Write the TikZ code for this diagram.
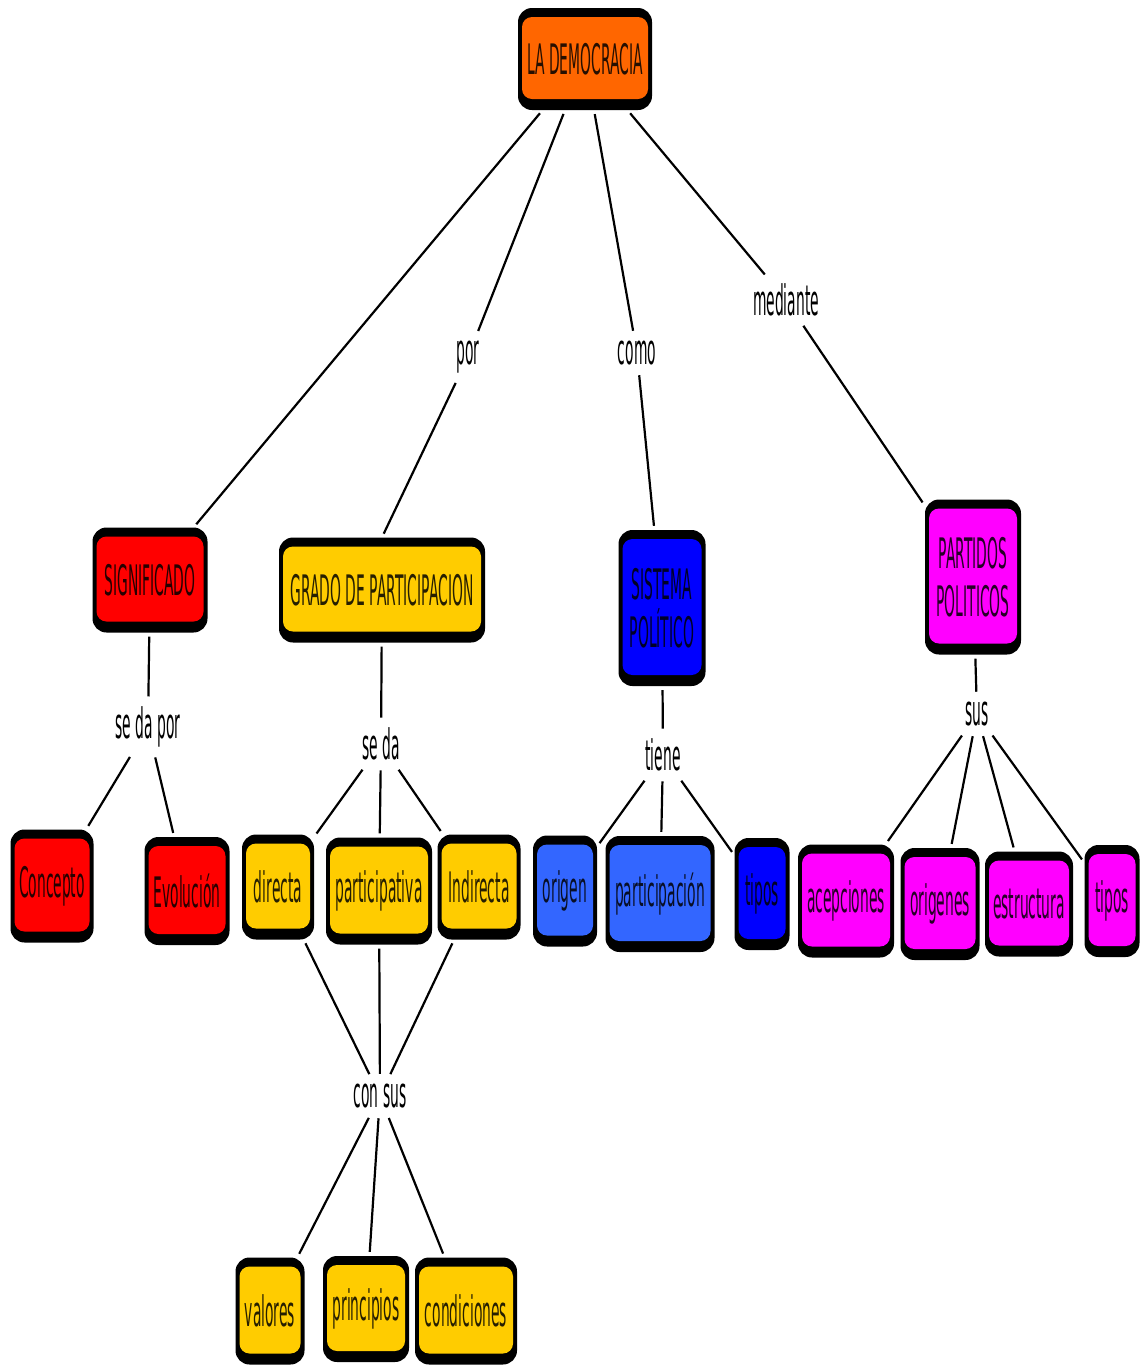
\documentclass[tikz,border=0pt]{standalone}
\usepackage{fontspec}
\setmainfont{DejaVu Sans}[FakeStretch=0.33]
\definecolor{corange}{HTML}{FF6600}
\definecolor{cred}{HTML}{FF0000}
\definecolor{cyel}{HTML}{FFCC00}
\definecolor{cblue}{HTML}{0000FF}
\definecolor{clblue}{HTML}{3366FF}
\definecolor{cmag}{HTML}{FF00FF}
\newcommand{\boxfont}{\fontsize{42}{48}\selectfont}
\begin{document}
\begin{tikzpicture}[x=1pt,y=-1pt,
  cbox/.style={fill=black, rounded corners=14pt, inner sep=0pt, font=\boxfont, align=center, text=black!85!#1,
    path picture={\fill[#1, rounded corners=10pt] ([xshift=4pt,yshift=-9pt]path picture bounding box.north west) rectangle ([xshift=-4pt,yshift=11pt]path picture bounding box.south east);}},
  sz/.style 2 args={minimum width=#1pt, minimum height=#2pt},
  lbl/.style={font=\boxfont, inner sep=6pt},
  conn/.style={line width=2.2pt, shorten <=4pt, shorten >=4pt}]
\useasboundingbox (0,0) rectangle (1141,1366);
% main nodes
\node[cbox=corange, sz={134}{102}] (dem) at (585,59) {LA DEMOCRACIA};
\node[cbox=cred, sz={115}{105}] (signif) at (150,580) {SIGNIFICADO};
\node[cbox=cyel, sz={206}{105}] (grado) at (382,590) {GRADO DE PARTICIPACION};
\node[cbox=cblue, sz={87}{156}] (sist) at (662,608) {SISTEMA\\POLÍTICO};
\node[cbox=cmag, sz={96}{155}] (part) at (973,577) {PARTIDOS\\POLITICOS};
% link labels
\node[lbl] (por) at (468,357) {por};
\node[lbl] (como) at (637,353) {como};
\node[lbl] (med) at (786,300) {mediante};
\node[lbl] (sedapor) at (148,727) {se da por};
\node[lbl] (seda) at (381,744) {se da};
\node[lbl] (tiene) at (663,755) {tiene};
\node[lbl] (sus) at (977,714) {sus};
\node[lbl] (consus) at (380,1096) {con sus};
% bottom row
\node[cbox=cred, sz={83}{113}] (concepto) at (52,886) {Concepto};
\node[cbox=cred, sz={85}{108}] (evol) at (187,891) {Evolución};
\node[cbox=cyel, sz={72}{105}] (directa) at (278,887) {directa};
\node[cbox=cyel, sz={106}{107}] (partic) at (379,891) {participativa};
\node[cbox=cyel, sz={83}{105}] (indir) at (479,887) {Indirecta};
\node[cbox=clblue, sz={64}{111}] (origen) at (565,891) {origen};
\node[cbox=clblue, sz={109}{116}] (particion) at (660,894) {participación};
\node[cbox=cblue, sz={55}{112}] (tiposa) at (762,894) {tipos};
\node[cbox=cmag, sz={96}{113}] (acep) at (846,901) {acepciones};
\node[cbox=cmag, sz={79}{112}] (orig) at (940,904) {origenes};
\node[cbox=cmag, sz={88}{105}] (estr) at (1029,904) {estructura};
\node[cbox=cmag, sz={55}{112}] (tiposb) at (1112,901) {tipos};
\node[cbox=cyel, sz={69}{107}] (valores) at (270,1311) {valores};
\node[cbox=cyel, sz={86}{106}] (princ) at (366,1309) {principios};
\node[cbox=cyel, sz={102}{107}] (cond) at (466,1311) {condiciones};
% connectors
\draw[conn] (dem) -- (signif);
\draw[conn] (dem) -- (por);
\draw[conn] (por) -- (grado.north);
\draw[conn] (dem) -- (como);
\draw[conn] (como) -- (sist);
\draw[conn] (dem) -- (med);
\draw[conn] (med) -- (part);
\draw[conn] (signif) -- (sedapor);
\draw[conn] (sedapor) -- (concepto);
\draw[conn] (sedapor) -- (evol);
\draw[conn] (grado) -- (seda);
\draw[conn] (seda) -- (directa);
\draw[conn] (seda) -- (partic);
\draw[conn] (seda) -- (indir);
\draw[conn] (directa) -- (consus);
\draw[conn] (partic) -- (consus);
\draw[conn] (indir) -- (consus);
\draw[conn] (consus) -- (valores);
\draw[conn] (consus) -- (princ);
\draw[conn] (consus) -- (cond);
\draw[conn] (sist) -- (tiene);
\draw[conn] (tiene) -- (origen);
\draw[conn] (tiene) -- (particion);
\draw[conn] (tiene) -- (tiposa);
\draw[conn] (part) -- (sus);
\draw[conn] (sus) -- (acep);
\draw[conn] (sus) -- (orig);
\draw[conn] (sus) -- (estr);
\draw[conn] (sus) -- (tiposb);
\end{tikzpicture}
\end{document}
